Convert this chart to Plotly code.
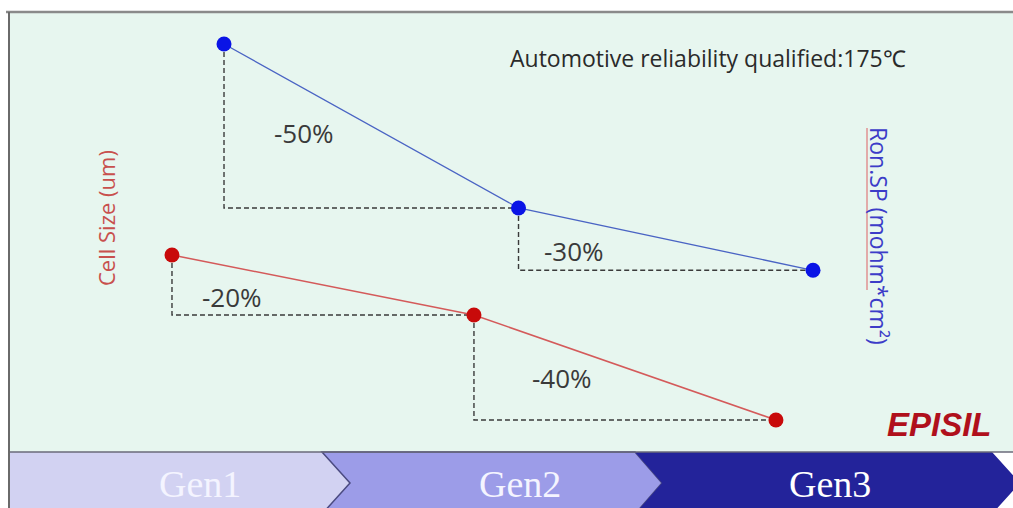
import plotly.graph_objects as go

# ---------------- data ----------------
generations = ["Gen1", "Gen2", "Gen3"]
gen_index = [1, 2, 3]
ron_sp = [1.00, 0.50, 0.31]        # blue series (relative Ron.SP)
cell_size = [1.00, 0.80, 0.45]     # red series (relative cell size)
ron_drop_labels = ["-50%", "-30%"]
cell_drop_labels = ["-20%", "-40%"]
note_text = "Automotive reliability qualified:175\u2103"
left_title = "Cell Size (um)"
right_title = "Ron.SP (mohm*cm\u00b2)"
logo_text = "EPISIL"

W, H = 1013, 508


def px(x):
    return x / W


def py(y):
    return 1 - y / H


def path(points):
    s = "M " + " L ".join(f"{px(x):.5f},{py(y):.5f}" for x, y in points) + " Z"
    return s


fig = go.Figure()


def step_traces(xs, ys, xa, ya):
    for i in range(len(xs) - 1):
        fig.add_trace(go.Scatter(
            x=[xs[i], xs[i], xs[i + 1]], y=[ys[i], ys[i + 1], ys[i + 1]],
            mode="lines", xaxis=xa, yaxis=ya, hoverinfo="skip",
            line=dict(color="#3a3a3a", width=1.4, dash="5px,3px"),
            showlegend=False))


step_traces(gen_index, ron_sp, "x", "y")
step_traces(gen_index, cell_size, "x2", "y2")

fig.add_trace(go.Scatter(
    x=gen_index, y=ron_sp, mode="lines+markers", xaxis="x", yaxis="y",
    line=dict(color="#4a64c4", width=1.3),
    marker=dict(color="#0a14e6", size=15), showlegend=False,
    text=generations))
fig.add_trace(go.Scatter(
    x=gen_index, y=cell_size, mode="lines+markers", xaxis="x2", yaxis="y2",
    line=dict(color="#d45a5a", width=1.5),
    marker=dict(color="#c80a0a", size=15), showlegend=False,
    text=generations))

# percent labels placed relative to each step triangle
ron_offsets = [(0.27, 0.46), (0.19, 0.31)]
cell_offsets = [(0.20, 0.30), (0.29, 0.40)]
label_font = dict(family="Open Sans", size=26, color="#3a3a3a")
anchor = dict(xanchor="center", yanchor="middle", showarrow=False)
annotations = []
for i, lab in enumerate(ron_drop_labels):
    fx, fy = ron_offsets[i]
    annotations.append(dict(
        x=gen_index[i] + fx * (gen_index[i + 1] - gen_index[i]),
        y=ron_sp[i + 1] + fy * (ron_sp[i] - ron_sp[i + 1]),
        xref="x", yref="y", text=lab, font=label_font, **anchor))
for i, lab in enumerate(cell_drop_labels):
    fx, fy = cell_offsets[i]
    annotations.append(dict(
        x=gen_index[i] + fx * (gen_index[i + 1] - gen_index[i]),
        y=cell_size[i + 1] + fy * (cell_size[i] - cell_size[i + 1]),
        xref="x2", yref="y2", text=lab, font=label_font, **anchor))

annotations += [
    dict(x=px(708), y=py(58), xref="paper", yref="paper", text=note_text,
         font=dict(family="Open Sans", size=23, color="#2a2a2a"), **anchor),
    dict(x=px(106), y=py(218), xref="paper", yref="paper", text=left_title,
         textangle=-90,
         font=dict(family="Open Sans", size=22, color="#c8504d"), **anchor),
    dict(x=px(879), y=py(236), xref="paper", yref="paper", text=right_title,
         textangle=90,
         font=dict(family="Open Sans", size=23, color="#3c3cc8"), **anchor),
    dict(x=px(939), y=py(424), xref="paper", yref="paper",
         text="<b><i>" + logo_text + "</i></b>",
         font=dict(family="Liberation Sans", size=33, color="#b0101c"), **anchor),
]
gen_centers = [200, 520, 830]
gen_text_colors = ["#f4f4ff", "#f4f4ff", "#ffffff"]
for g, cx, c in zip(generations, gen_centers, gen_text_colors):
    annotations.append(dict(
        x=px(cx), y=py(484), xref="paper", yref="paper", text=g,
        font=dict(family="Liberation Serif", size=38, color=c), **anchor))

shapes = [
    # mint panel
    dict(type="rect", xref="paper", yref="paper", x0=px(10), x1=px(1013),
         y0=py(452), y1=py(12), fillcolor="#e7f6ef", line=dict(width=0),
         layer="below"),
    # frame lines
    dict(type="line", xref="paper", yref="paper", x0=px(6), x1=px(1013),
         y0=py(12), y1=py(12), line=dict(color="#8a8a8a", width=2.5),
         layer="below"),
    dict(type="line", xref="paper", yref="paper", x0=px(9), x1=px(9),
         y0=py(12), y1=py(515), line=dict(color="#6a6a6a", width=2),
         layer="below"),
    # spell-check style underline next to the right title
    dict(type="line", xref="paper", yref="paper", x0=px(867), x1=px(867),
         y0=py(128), y1=py(290), line=dict(color="#e07a7a", width=1.2),
         layer="below"),
    # chevrons
    dict(type="path", xref="paper", yref="paper",
         path=path([(10, 452), (322, 452), (350, 483), (322, 514), (10, 514)]),
         fillcolor="#d2d2f2", line=dict(width=0), layer="below"),
    dict(type="path", xref="paper", yref="paper",
         path=path([(322, 452), (635, 452), (662, 483), (635, 514), (322, 514),
                    (350, 483)]),
         fillcolor="#9c9ce8", line=dict(color="#4a4a80", width=1.5),
         layer="below"),
    dict(type="path", xref="paper", yref="paper",
         path=path([(635, 452), (992, 452), (1020, 483), (992, 514), (635, 514),
                    (662, 483)]),
         fillcolor="#23239a", line=dict(width=0), layer="below"),
    dict(type="line", xref="paper", yref="paper", x0=px(10), x1=px(1013),
         y0=py(452), y1=py(452), line=dict(color="#6a6a7a", width=1.5),
         layer="below"),
]

axis_common = dict(visible=False, showgrid=False, zeroline=False, fixedrange=True)
fig.update_layout(
    width=W, height=H,
    margin=dict(l=0, r=0, t=0, b=0),
    paper_bgcolor="#ffffff", plot_bgcolor="rgba(0,0,0,0)",
    xaxis=dict(domain=[0, 1], range=[0.2394, 3.679], **axis_common),
    yaxis=dict(domain=[0, 1], range=[-0.4146, 1.134], **axis_common),
    xaxis2=dict(overlaying="x", range=[0.4305, 3.785], anchor="y2", **axis_common),
    yaxis2=dict(overlaying="y", range=[0.1567, 1.85], anchor="x2", side="right",
                **axis_common),
    shapes=shapes, annotations=annotations, showlegend=False,
)

fig.write_html("out.html", config={"displayModeBar": False},
               post_script="document.body.style.margin='0px';document.body.style.overflow='hidden';")
